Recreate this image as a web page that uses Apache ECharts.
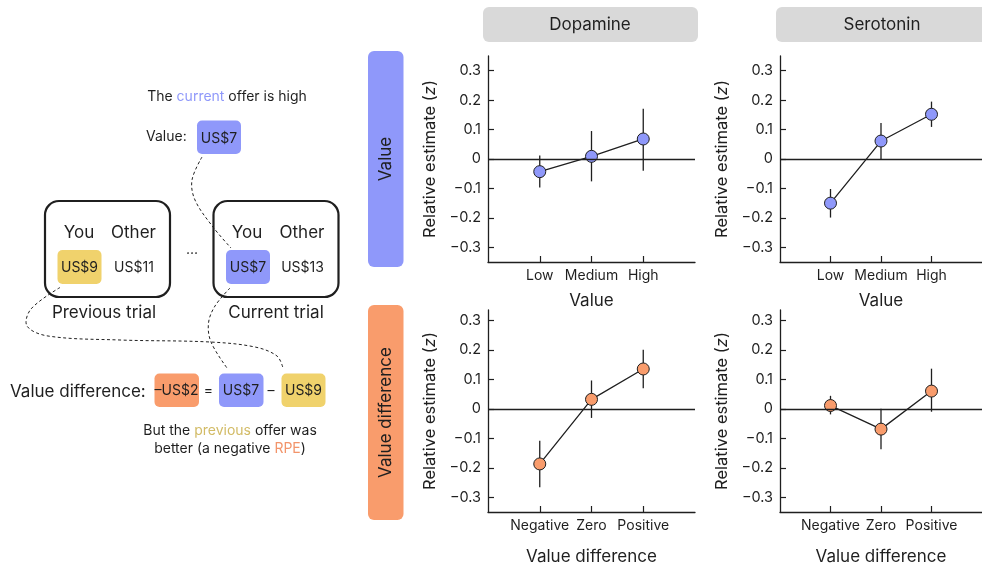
<!DOCTYPE html>
<html>
<head>
<meta charset="utf-8">
<script src="https://cdn.jsdelivr.net/npm/echarts@6/dist/echarts.min.js"></script>
<style>
html,body{margin:0;padding:0;background:#fff;}
#chart{width:982px;height:566px;}
</style>
</head>
<body>
<div id="chart"></div>
<script>
// ---------- data ----------
const valueCategories = ['Low', 'Medium', 'High'];
const diffCategories = ['Negative', 'Zero', 'Positive'];
const yTicks = [-0.3, -0.2, -0.1, 0, 0.1, 0.2, 0.3];
const columnTitles = ['Dopamine', 'Serotonin'];
const rowTitles = ['Value', 'Value difference'];

const dopValueMean = [-0.043, 0.009, 0.068];
const dopValueLow  = [-0.097, -0.076, -0.040];
const dopValueHigh = [0.012, 0.095, 0.171];

const serValueMean = [-0.150, 0.061, 0.152];
const serValueLow  = [-0.199, -0.002, 0.109];
const serValueHigh = [-0.102, 0.122, 0.195];

const dopDiffMean = [-0.187, 0.032, 0.135];
const dopDiffLow  = [-0.266, -0.031, 0.070];
const dopDiffHigh = [-0.108, 0.096, 0.200];

const serDiffMean = [0.011, -0.069, 0.060];
const serDiffLow  = [-0.019, -0.137, -0.010];
const serDiffHigh = [0.044, 0.000, 0.136];

// ---------- styling ----------
const FONT = 'Inter';
const INK = '#1f1f1f';
const BLUE = '#8f98fa';
const ORANGE = '#f99c6c';
const YELLOW = '#f0d26c';

const panels = [
  {grid:{left:488, top:56, width:207, height:206}, cats:valueCategories, name:'Value', gap:30, mean:dopValueMean, lo:dopValueLow, hi:dopValueHigh, color:BLUE, max:0.35},
  {grid:{left:780, top:56, width:207, height:206}, cats:valueCategories, name:'Value', gap:30, mean:serValueMean, lo:serValueLow, hi:serValueHigh, color:BLUE, max:0.35},
  {grid:{left:488, top:310, width:207, height:202}, cats:diffCategories, name:'Value difference', gap:36, mean:dopDiffMean, lo:dopDiffLow, hi:dopDiffHigh, color:ORANGE, max:0.335},
  {grid:{left:780, top:310, width:207, height:202}, cats:diffCategories, name:'Value difference', gap:36, mean:serDiffMean, lo:serDiffLow, hi:serDiffHigh, color:ORANGE, max:0.335}
];

const grids = [], xAxes = [], yAxes = [], series = [];
panels.forEach((p, i) => {
  grids.push(Object.assign({containLabel:false}, p.grid));
  const cats = p.cats;
  xAxes.push({
    type:'value', gridIndex:i, min:0, max:4,
    name:p.name, nameLocation:'middle', nameGap:p.gap,
    nameTextStyle:{fontFamily:FONT, fontSize:17, color:INK},
    axisLine:{show:true, onZero:false, lineStyle:{color:INK, width:1.3}},
    axisTick:{show:true, inside:true, length:6, customValues:[1,2,3], lineStyle:{color:INK, width:1.2}},
    axisLabel:{customValues:[1,2,3], formatter:v => cats[Math.round(v)-1] || '', fontFamily:FONT, fontSize:14, color:INK, margin:7},
    splitLine:{show:false}
  });
  yAxes.push({
    type:'value', gridIndex:i, min:-0.35, max:p.max,
    name:'{a|Relative estimate (}{i|z}{a|)}', nameLocation:'middle', nameGap:49,
    nameTextStyle:{rich:{a:{fontFamily:FONT, fontSize:16.5, color:INK}, i:{fontFamily:FONT, fontSize:16.5, color:INK, fontStyle:'italic'}}},
    axisLine:{show:true, lineStyle:{color:INK, width:1.3}},
    axisTick:{show:true, inside:true, length:6, customValues:yTicks, lineStyle:{color:INK, width:1.2}},
    axisLabel:{customValues:yTicks, formatter:v => Math.abs(v) < 1e-9 ? '0' : (v < 0 ? '\u2212' + Math.abs(v).toFixed(1) : v.toFixed(1)), fontFamily:FONT, fontSize:14.5, color:INK, margin:7},
    splitLine:{show:false}
  });
  // error bars
  series.push({
    type:'custom', xAxisIndex:i, yAxisIndex:i, z:2,
    data:p.mean.map((m, k) => [k+1, p.lo[k], p.hi[k]]),
    renderItem:(params, api) => {
      const a = api.coord([api.value(0), api.value(1)]);
      const b = api.coord([api.value(0), api.value(2)]);
      return {type:'line', shape:{x1:a[0], y1:a[1], x2:b[0], y2:b[1]}, style:{stroke:INK, lineWidth:1.3}};
    },
    silent:true
  });
  // means
  series.push({
    type:'line', xAxisIndex:i, yAxisIndex:i, z:3,
    data:p.mean.map((m, k) => [k+1, m]),
    symbol:'circle', symbolSize:12,
    itemStyle:{color:p.color, borderColor:INK, borderWidth:1},
    lineStyle:{color:INK, width:1.3},
    markLine:{silent:true, symbol:'none', label:{show:false}, data:[{yAxis:0}], lineStyle:{color:INK, width:1.3, type:'solid'}},
    animation:false
  });
});

// ---------- diagram / annotations ----------
const T = (x, y, text, size, opts) => Object.assign({type:'text', x:x, y:y, style:Object.assign({text:text, fontFamily:FONT, fontSize:size, fill:INK, align:'center', verticalAlign:'middle'}, opts || {})});
const R = (x, y, w, h, fill, r) => ({type:'rect', shape:{x:x, y:y, width:w, height:h, r:r}, style:{fill:fill}});
const dashed = (pts) => ({type:'polyline', shape:{points:pts, smooth:0.35}, style:{stroke:INK, lineWidth:1, lineDash:[3,2.5], fill:null}});

const graphic = [
  // column headers
  R(483, 7, 215, 35, '#d9d9d9', 6),
  T(590, 24.5, columnTitles[0], 17),
  R(776, 7, 215, 35, '#d9d9d9', 6),
  T(882, 24.5, columnTitles[1], 17),
  // row headers
  R(368, 51, 35.5, 216, BLUE, 6),
  {type:'text', x:385.5, y:159, rotation:Math.PI/2, style:{text:rowTitles[0], fontFamily:FONT, fontSize:17, fill:INK, align:'center', verticalAlign:'middle'}},
  R(368, 305, 35.5, 215, ORANGE, 6),
  {type:'text', x:385.5, y:412.5, rotation:Math.PI/2, style:{text:rowTitles[1], fontFamily:FONT, fontSize:17, fill:INK, align:'center', verticalAlign:'middle'}},

  // top annotation
  T(227, 97, '{a|The }{b|current}{a| offer is high}', 14, {rich:{a:{fontFamily:FONT, fontSize:14, fill:INK}, b:{fontFamily:FONT, fontSize:14, fill:BLUE}}}),
  T(146, 137, 'Value:', 14, {align:'left'}),
  R(197, 120.5, 44, 33.5, BLUE, 5),
  T(219, 138.5, 'US$7', 14),

  // trial boxes
  {type:'rect', shape:{x:45, y:201, width:125, height:96, r:14}, style:{fill:null, stroke:INK, lineWidth:2.2}},
  {type:'rect', shape:{x:213.5, y:201, width:125, height:96, r:14}, style:{fill:null, stroke:INK, lineWidth:2.2}},
  T(79, 233, 'You', 17),
  T(133.5, 233, 'Other', 17),
  R(57.5, 250, 44, 34, YELLOW, 5),
  T(79.5, 268, 'US$9', 14),
  T(134, 268, 'US$11', 14),
  T(192, 250, '...', 14),
  T(247, 233, 'You', 17),
  T(302, 233, 'Other', 17),
  R(226, 250, 44, 34, BLUE, 5),
  T(248, 268, 'US$7', 14),
  T(302.5, 268, 'US$13', 14),
  T(104, 313, 'Previous trial', 17),
  T(276, 313, 'Current trial', 17),

  // dashed connectors
  dashed([[202,157],[192,180],[195,200],[213,227],[231,248]]),
  dashed([[60,287.5],[31,309],[27,326],[48,336],[120,340],[210,342],[255,347],[277,356],[283,368]]),
  dashed([[230,288],[215,306],[208.5,323],[211,342],[227,368]]),

  // value difference
  T(10, 391.5, 'Value difference:', 17, {align:'left'}),
  R(154.5, 373.5, 44.5, 33.5, ORANGE, 5),
  T(176.5, 391, '\u2013US$2', 14),
  T(208.5, 390.5, '=', 14),
  R(219, 373.5, 44.5, 33.5, BLUE, 5),
  T(241, 391, 'US$7', 14),
  T(271, 390.5, '\u2013', 14),
  R(281.5, 373.5, 44, 33.5, YELLOW, 5),
  T(303.5, 391, 'US$9', 14),
  T(230, 431, '{a|But the }{b|previous}{a| offer was}', 14, {rich:{a:{fontFamily:FONT, fontSize:14, fill:INK}, b:{fontFamily:FONT, fontSize:14, fill:'#d2bb66'}}}),
  T(230, 448.5, '{a|better (a negative }{b|RPE}{a|)}', 14, {rich:{a:{fontFamily:FONT, fontSize:14, fill:INK}, b:{fontFamily:FONT, fontSize:14, fill:'#f2946a'}}})
];

const chart = echarts.init(document.getElementById('chart'), null, {renderer:'canvas'});
chart.setOption({
  animation:false,
  textStyle:{fontFamily:FONT},
  grid:grids, xAxis:xAxes, yAxis:yAxes, series:series, graphic:graphic
});
</script>
</body>
</html>
